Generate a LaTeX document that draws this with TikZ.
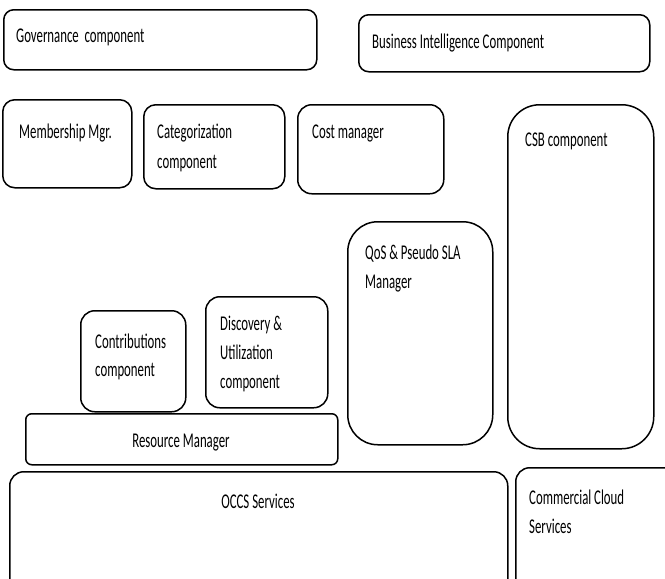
\documentclass[tikz,border=0pt]{standalone}
\usepackage{fontspec}
\setmainfont[FakeStretch=0.61]{Carlito}
\begin{document}
\begin{tikzpicture}[x=1pt,y=-1pt,
  box/.style={draw, line width=1.5pt, inner sep=0pt, anchor=north west},
  lbl/.style={anchor=base west, inner sep=0pt, font=\fontsize{21}{29}\selectfont},
  clbl/.style={anchor=base, inner sep=0pt, font=\fontsize{21}{29}\selectfont}]
\clip (0,0) rectangle (665,579);
\fill[white] (0,0) rectangle (665,579);
% boxes
\node[box, rounded corners=10pt, minimum width=313pt, minimum height=60pt] (gov) at (3,9) {};
\node[box, rounded corners=10pt, minimum width=291pt, minimum height=57pt] (bi) at (358,14) {};
\node[box, rounded corners=12pt, minimum width=129pt, minimum height=88pt] (mem) at (2,99) {};
\node[box, rounded corners=12pt, minimum width=141pt, minimum height=84pt] (cat) at (143,104) {};
\node[box, rounded corners=14pt, minimum width=146pt, minimum height=89pt] (cost) at (297,104) {};
\node[box, rounded corners=32pt, minimum width=146pt, minimum height=344pt] (csb) at (507,104) {};
\node[box, rounded corners=30pt, minimum width=145pt, minimum height=223pt] (qos) at (347,221) {};
\node[box, rounded corners=14pt, minimum width=105pt, minimum height=101pt] (contr) at (80,310) {};
\node[box, rounded corners=14pt, minimum width=122pt, minimum height=111pt] (disc) at (205,296) {};
\node[box, rounded corners=6pt, minimum width=312pt, minimum height=51pt] (res) at (25,413) {};
\node[box, rounded corners=14pt, minimum width=498pt, minimum height=130pt] (occs) at (9,471) {};
\node[box, rounded corners=14pt, minimum width=170pt, minimum height=134pt] (comm) at (515,467) {};
% texts
\node[lbl] (tgov) at (16,42) {Governance\ \ component};
\node[lbl] (tbi) at (372,48) {Business Intelligence Component};
\node[lbl] (tmem) at (19,138) {Membership Mgr.};
\node[lbl] (tcat1) at (157,138) {Categorization};
\node[lbl] (tcat2) at (157,168) {component};
\node[lbl] (tcost) at (312,138) {Cost manager};
\node[lbl] (tcsb) at (525,146) {CSB component};
\node[lbl] (tqos1) at (365,259) {QoS \& Pseudo SLA};
\node[lbl] (tqos2) at (365,288) {Manager};
\node[lbl] (tcon1) at (95,348) {Contributions};
\node[lbl] (tcon2) at (95,376) {component};
\node[lbl] (tdis1) at (220,330) {Discovery \&};
\node[lbl] (tdis2) at (220,359) {Utilization};
\node[lbl] (tdis3) at (220,388) {component};
\node[clbl] (tres) at (181,447) {Resource Manager};
\node[clbl] (toccs) at (258,508) {OCCS Services};
\node[lbl] (tcom1) at (529,504) {Commercial Cloud};
\node[lbl] (tcom2) at (529,533) {Services};
\end{tikzpicture}
\end{document}
